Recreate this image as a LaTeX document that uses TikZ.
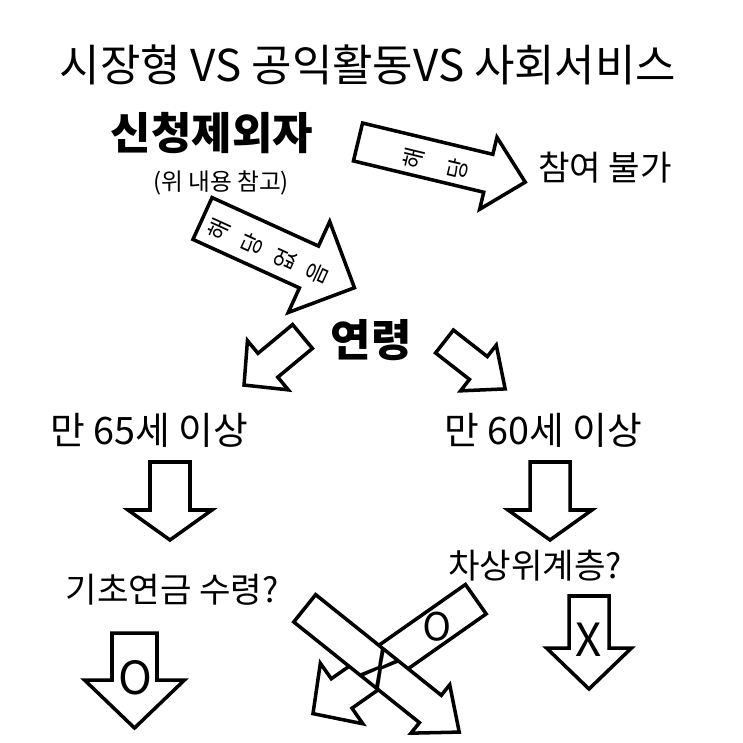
\documentclass[tikz,border=0pt]{standalone}
\usepackage{fontspec}
\setmainfont{Noto Sans CJK KR}
\usetikzlibrary{positioning}
% block arrow along +x: length, half shaft, half head, head length
\newcommand{\blockarrow}[4]{(0,-#2) -- (#1-#4,-#2) -- (#1-#4,-#3) -- (#1,0) -- (#1-#4,#3) -- (#1-#4,#2) -- (0,#2) -- cycle}

\begin{document}
\begin{tikzpicture}[x=0.02cm, y=-0.02cm, line join=miter,
    bigarrow/.style={draw, line width=2pt, fill=white},
    titletext/.style={font=\fontsize{25}{28}\selectfont},
    headtext/.style={font=\fontsize{25}{28}\selectfont\bfseries},
    smalltext/.style={font=\fontsize{13.5}{15}\selectfont},
    midtext/.style={font=\fontsize{19.5}{22}\selectfont},
    agetext/.style={font=\fontsize{21.5}{24}\selectfont},
    glyph/.style={font=\fontsize{13}{14}\selectfont, inner sep=0pt},
    oxmark/.style={font=\fontsize{26}{28}\selectfont, inner sep=0pt}]
  \useasboundingbox (0,0) rectangle (743,743);

  % texts
  \node[titletext] (title) at (368,65) {시장형 VS 공익활동VS 사회서비스};
  \node[headtext] (excl) at (212,133) {신청제외자};
  \node[smalltext] (note) at (221,183) {(위 내용 참고)};
  \node[midtext] (noentry) at (605,168) {참여 불가};
  \node[headtext] (age) at (371,340) {연령};
  \node[agetext] (age65) at (149,430) {만 65세 이상};
  \node[agetext] (age60) at (543,430) {만 60세 이상};
  \node[midtext] (pension) at (172,590) {기초연금 수령?};
  \node[midtext] (nearpoor) at (535,566) {차상위계층?};

  % applicable -> no entry
  \begin{scope}[shift={(358,142)}, rotate=-13.5]
    \draw[bigarrow] \blockarrow{172}{19.5}{37}{38};
    \foreach \ch/\s [count=\i] in {해/58, 당/103}
      \node[glyph, rotate=76.5] (yes\i) at (\s,3) {\ch};
  \end{scope}

  % not applicable -> age
  \begin{scope}[shift={(202.5,218.5)}, rotate=-24.5]
    \draw[bigarrow] \blockarrow{167}{23}{50}{50};
    \foreach \ch/\s [count=\i] in {해/20, 당/56, 없/92, 음/127}
      \node[glyph, rotate=65.5] (no\i) at (\s,3) {\ch};
  \end{scope}

  % age split
  \draw[bigarrow, shift={(302.5,336.5)}, rotate=219.7] \blockarrow{76}{15.5}{32}{31};
  \draw[bigarrow, shift={(444.5,341.5)}, rotate=-38] \blockarrow{77}{14.5}{29}{34};

  % under age
  \draw[bigarrow, shift={(170,462)}, rotate=-90] \blockarrow{78}{20}{42}{30};
  \draw[bigarrow, shift={(550,462)}, rotate=-90] \blockarrow{78}{20}{42}{30};

  % pension: yes
  \draw[bigarrow, shift={(134.5,633)}, rotate=-90] \blockarrow{95}{22.5}{50}{48};
  \node[oxmark] (penyes) at (135,678) {O};

  % near poor: no
  \draw[bigarrow, shift={(589,596)}, rotate=-90] \blockarrow{93}{20}{42.5}{41};
  \node[oxmark] (poorno) at (589,640) {X};

  % crossing arrows
  \begin{scope}[shift={(475.8,599.2)}, rotate=215.1]
    \draw[bigarrow] \blockarrow{199}{18}{37}{35};
    \node[oxmark, font=\fontsize{22}{24}\selectfont, rotate=180] (crossyes) at (47,0) {O};
  \end{scope}
  \begin{scope}[shift={(304.7,608.3)}, rotate=-38.7]
    \draw[bigarrow] \blockarrow{198}{17.5}{31}{37};
    \node[oxmark, rotate=-38.7] (crossno) at (97,0) {X};
  \end{scope}
\end{tikzpicture}
\end{document}
